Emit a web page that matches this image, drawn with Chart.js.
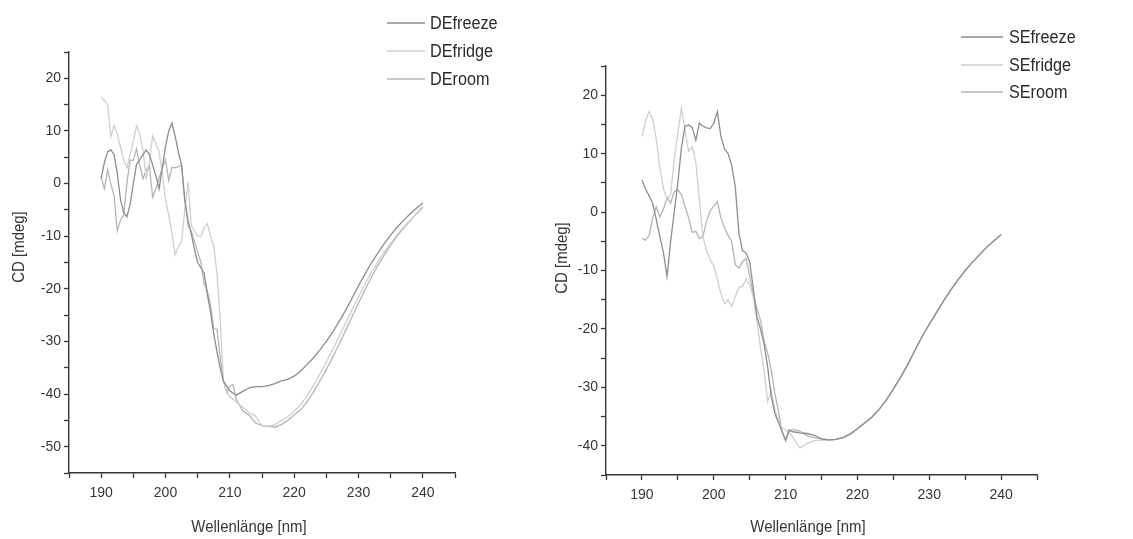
<!DOCTYPE html>
<html>
<head>
<meta charset="utf-8">
<script src="https://cdn.jsdelivr.net/npm/chart.js@4.4.1/dist/chart.umd.min.js"></script>
<style>
  html, body { margin: 0; padding: 0; background: #fff; }
  #wrap { position: relative; width: 1133px; height: 539px; overflow: hidden; }
  #wrap canvas { position: absolute; left: 0; top: 0; }
</style>
</head>
<body>
<div id="wrap">
  <canvas id="deChart" width="1133" height="539"></canvas>
  <canvas id="seChart" width="1133" height="539"></canvas>
</div>
<script>
// CD spectra, two panels (DE / SE samples), three storage conditions each

// ====== Data ======
const WAVELENGTH = [
  190, 190.5, 191, 191.5, 192, 192.5, 193, 193.5, 194, 194.5,
  195, 195.5, 196, 196.5, 197, 197.5, 198, 198.5, 199, 199.5,
  200, 200.5, 201, 201.5, 202, 202.5, 203, 203.5, 204, 204.5,
  205, 205.5, 206, 206.5, 207, 207.5, 208, 208.5, 209, 209.5,
  210, 210.5, 211,
  212, 213, 214, 215, 216, 217, 218, 219, 220,
  221, 222, 223, 224, 225, 226, 227, 228, 229, 230,
  231, 232, 233, 234, 235, 236, 237, 238, 239, 240
];

const DE_FREEZE = [
  1, 4, 6, 6.4, 5.5, 2, -3, -5.5, -6.3, -4,
  0, 3.7, 4.5, 5.5, 6.4, 5.5, 3.5, 1.5, -1, 3,
  7, 10, 11.5, 9, 6, 3.5, -3.2, -7, -9.5, -12.5,
  -15, -16, -17, -21, -24.5, -28.5, -32, -35, -37.5, -38.5,
  -39.4, -39.8, -40.2,
  -39.5, -38.8, -38.6, -38.6, -38.4, -38.0, -37.5, -37.2, -36.6,
  -35.6, -34.4, -33.1, -31.6, -30.0, -28.2, -26.2, -24.1, -21.8, -19.4,
  -17.2, -15.1, -13.2, -11.4, -9.8, -8.3, -7.0, -5.8, -4.7, -3.7
];
const DE_FRIDGE = [
  16.4, 15.8, 15, 9, 11, 9.5, 7, 4.5, 3, 5.5,
  8, 11, 9.5, 6.3, 1, 4, 9, 7.5, 6, 2,
  -3, -6, -9.5, -13.5, -12, -11, -5, 0.3, -8, -9,
  -10, -10, -8.5, -7.6, -10, -12, -17, -26, -37.5, -39.5,
  -40.5, -41, -41.5,
  -42.5, -43.5, -44.2, -46, -46.2, -45.8, -45, -44.3, -43.3,
  -42, -40.3, -38.4, -36.2, -33.9, -31.5, -29, -26.5, -24, -21.5,
  -19.1, -16.9, -14.9, -13, -11.3, -9.7, -8.3, -7, -5.7, -4.3
];
const DE_ROOM = [
  1.2, -1, 2.6, 0, -2.3, -9, -7, -6, 0, 4.5,
  4.4, 6.6, 3.5, 0.9, 2.5, 3.4, -2.6, -1, 1, 3,
  4.5, 0.6, 3.1, 3, 3.2, 3.4, -3, -8, -9, -11,
  -13, -15, -19, -20.4, -23, -27.6, -27.7, -33, -37.5, -39.7,
  -38.5, -38.2, -41,
  -43.2, -44, -45.5, -46, -46.1, -46.3, -45.8, -45, -44,
  -43, -41.5, -39.6, -37.5, -35.3, -33, -30.5, -27.9, -25.3, -22.7,
  -20.2, -17.8, -15.6, -13.6, -11.7, -10, -8.5, -7.1, -5.8, -4.5
];

const SE_FREEZE = [
  5.5, 4, 2.8, 1.5, -1.3, -4.2, -7, -11, -5, 0,
  5, 11, 14.7, 14.9, 14.5, 12.3, 15.2, 14.7, 14.4, 14.3,
  15.2, 17.2, 13, 10.8, 10, 8, 4.3, -3.6, -6.6, -7,
  -8.5, -13, -17.9, -20, -22.5, -26.5, -31.5, -34.5, -36, -37.5,
  -39, -37.3, -37.6,
  -37.8, -37.9, -38.2, -38.8, -39, -38.9, -38.6, -38, -37.1,
  -36.1, -35.1, -33.8, -32.2, -30.3, -28.3, -26.1, -23.7, -21.3, -19.2,
  -17.2, -15.2, -13.3, -11.6, -10, -8.6, -7.3, -6, -4.9, -3.9
];
const SE_FRIDGE = [
  12.9, 15.5, 17.2, 16, 12.5, 7.5, 4, 2.1, 3, 9,
  13.5, 17.8, 14, 10.4, 11.2, 8.5, 2, -4.3, -6.5, -8.2,
  -9.2, -11.5, -14, -15.7, -15, -16.2, -14.5, -12.8, -12.8, -11.4,
  -12.5, -14.5, -18.5, -23.1, -27, -32.4, -30.5, -33.8, -35.5, -36.9,
  -37.3, -37.7, -38.5,
  -40.4, -39.6, -39.1, -39, -39.1, -38.9, -38.5, -37.9, -37.1,
  -36.1, -35.1, -33.8, -32.2, -30.3, -28.3, -26.1, -23.7, -21.3, -19.2,
  -17.2, -15.2, -13.3, -11.6, -10, -8.6, -7.3, -6, -4.9, -3.8
];
const SE_ROOM = [
  -4.5, -4.8, -4, -1, 0.9, -0.8, 0.5, 2.5, 1.5, 3.5,
  3.8, 3, 1, -1, -3.5, -3.3, -4.5, -4.2, -1.5, 0.2,
  1, 1.8, -1, -2.7, -4, -5, -9, -9.6, -8.5, -7.9,
  -11, -14, -16.5, -18.5, -22, -24.1, -27, -31, -34, -37.5,
  -39.2, -37.5, -37.2,
  -37.5, -38.3, -38.6, -38.8, -39, -38.9, -38.6, -38, -37.1,
  -36.1, -35.1, -33.8, -32.2, -30.3, -28.3, -26.1, -23.7, -21.3, -19.2,
  -17.2, -15.2, -13.3, -11.6, -10, -8.6, -7.3, -6, -4.9, -3.9
];

const DE_LABELS = ["DEfreeze", "DEfridge", "DEroom"];
const SE_LABELS = ["SEfreeze", "SEfridge", "SEroom"];
const X_TITLE = "Wellenlänge [nm]";
const Y_TITLE = "CD [mdeg]";

// ====== Styling ======
const W = 1133, H = 539;
const FONT = '"Liberation Sans", Arial, sans-serif';
const INK = "#363636";
const LINE_COLORS = ["#8e8e8e", "#cfcfcf", "#b5b5b5"];

// text in the source is a bit squeezed sideways, so titles/legend get a x-scale
function squeezedText(ctx, text, x, y, sx, rotate) {
  ctx.save();
  ctx.translate(x, y);
  if (rotate) ctx.rotate(-Math.PI / 2);
  ctx.scale(sx, 1);
  ctx.fillText(text, 0, 0);
  ctx.restore();
}

// draws axis titles + legend at fixed spots (Origin-style layout)
const overlayPlugin = {
  id: "overlay",
  afterDraw(chart, args, o) {
    const ctx = chart.ctx;
    ctx.save();
    ctx.fillStyle = INK;
    ctx.textBaseline = "middle";

    ctx.font = `${o.titleSize}px ${FONT}`;
    ctx.textAlign = "center";
    squeezedText(ctx, X_TITLE, o.xTitle[0], o.xTitle[1], 0.88, false);
    squeezedText(ctx, Y_TITLE, o.yTitle[0], o.yTitle[1], 0.88, true);

    ctx.font = `${o.legendSize}px ${FONT}`;
    ctx.textAlign = "left";
    chart.data.datasets.forEach((ds, i) => {
      const y = o.legend.y[i];
      ctx.strokeStyle = ds.borderColor;
      ctx.lineWidth = 1.3;
      ctx.beginPath();
      ctx.moveTo(o.legend.x1, y);
      ctx.lineTo(o.legend.x2, y);
      ctx.stroke();
      ctx.fillStyle = "#2b2b2b";
      squeezedText(ctx, ds.label, o.legend.text, y + 1, 0.9, false);
    });
    ctx.restore();
  }
};

function makeChart(canvasId, labels, seriesList, cfg) {
  const datasets = seriesList.map((vals, i) => ({
    label: labels[i],
    data: WAVELENGTH.map((w, k) => ({ x: w, y: vals[k] })),
    borderColor: LINE_COLORS[i],
    borderWidth: 1.3,
    pointRadius: 0,
    tension: 0,
    fill: false
  }));

  const axisCommon = {
    type: "linear",
    border: { display: true, color: INK, width: 1.4 },
    grid: { display: true, drawOnChartArea: false, drawTicks: true, tickLength: 5, color: INK, tickWidth: 1.3 },
    ticks: {
      autoSkip: false,
      stepSize: 5,
      color: INK,
      font: { family: FONT, size: 14 },
      callback: (v) => (v % 10 === 0 ? String(v) : "")
    }
  };

  return new Chart(document.getElementById(canvasId), {
    type: "line",
    data: { datasets },
    plugins: [overlayPlugin],
    options: {
      responsive: false,
      animation: false,
      events: [],
      layout: { padding: { left: 0, top: cfg.area.top, right: W - cfg.area.right, bottom: 0 } },
      plugins: {
        legend: { display: false },
        tooltip: { enabled: false },
        overlay: cfg.overlay
      },
      scales: {
        x: {
          ...axisCommon,
          min: 185,
          max: 245,
          ticks: {
            ...axisCommon.ticks,
            padding: 7,
            maxRotation: 0,
            callback: (v) => (v % 10 === 0 && v > 185 && v < 245 ? String(v) : "")
          },
          afterFit: (s) => { s.height = H - cfg.area.bottom; }
        },
        y: {
          ...axisCommon,
          min: cfg.yMin,
          max: 25,
          ticks: {
            ...axisCommon.ticks,
            padding: 3,
            callback: (v) => (v % 10 === 0 && v < 25 ? String(v) : "")
          },
          afterFit: (s) => { s.width = cfg.area.left; }
        }
      }
    }
  });
}

makeChart("deChart", DE_LABELS, [DE_FREEZE, DE_FRIDGE, DE_ROOM], {
  area: { left: 69, top: 52, right: 455, bottom: 473 },
  yMin: -55,
  overlay: {
    titleSize: 17,
    legendSize: 18,
    xTitle: [249, 527],
    yTitle: [19, 247],
    legend: { x1: 387, x2: 425, text: 430, y: [23, 51, 79] }
  }
});

makeChart("seChart", SE_LABELS, [SE_FREEZE, SE_FRIDGE, SE_ROOM], {
  area: { left: 606, top: 66, right: 1037, bottom: 475 },
  yMin: -45,
  overlay: {
    titleSize: 17,
    legendSize: 18,
    xTitle: [808, 527],
    yTitle: [562, 258],
    legend: { x1: 961, x2: 1003, text: 1009, y: [37, 65, 92] }
  }
});
</script>
</body>
</html>
